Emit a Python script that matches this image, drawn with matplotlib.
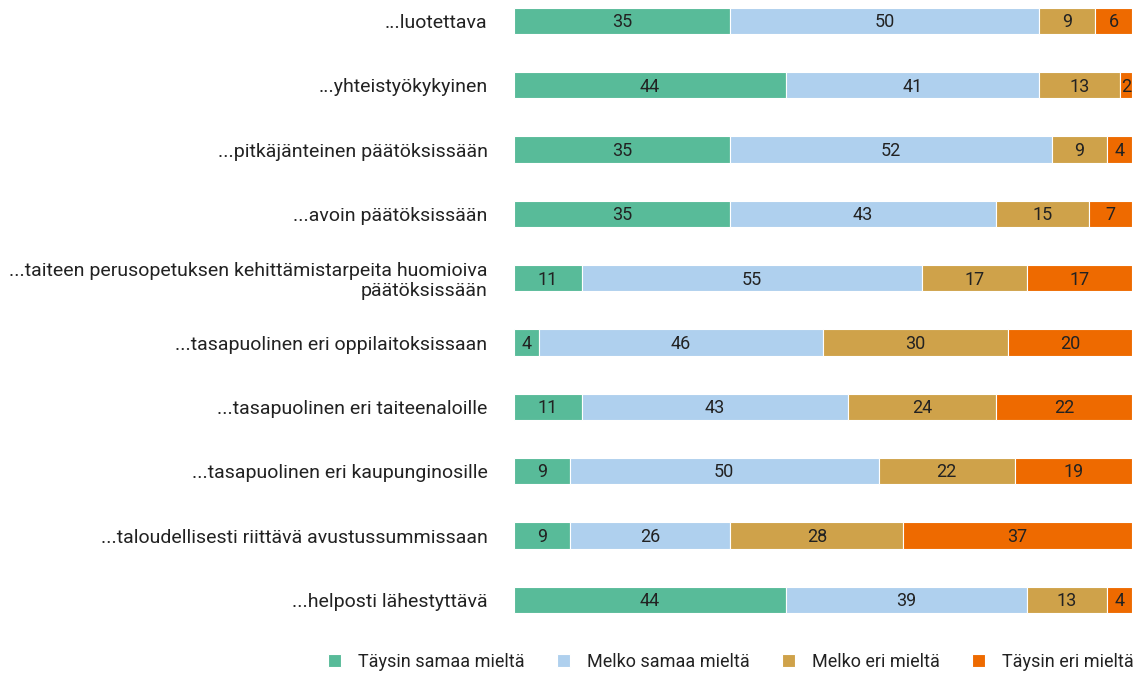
import matplotlib.pyplot as plt
import numpy as np

# === Data ===
categories = [
    '...luotettava',
    '...yhteistyökykyinen',
    '...pitkäjänteinen päätöksissään',
    '...avoin päätöksissään',
    '...taiteen perusopetuksen kehittämistarpeita huomioiva\npäätöksissään',
    '...tasapuolinen eri oppilaitoksissaan',
    '...tasapuolinen eri taiteenaloille',
    '...tasapuolinen eri kaupunginosille',
    '...taloudellisesti riittävä avustussummissaan',
    '...helposti lähestyttävä',
]
series_names = ['Täysin samaa mieltä', 'Melko samaa mieltä', 'Melko eri mieltä', 'Täysin eri mieltä']
taysin_samaa = [35, 44, 35, 35, 11, 4, 11, 9, 9, 44]
melko_samaa = [50, 41, 52, 43, 55, 46, 43, 50, 26, 39]
melko_eri = [9, 13, 9, 15, 17, 30, 24, 22, 28, 13]
taysin_eri = [6, 2, 4, 7, 17, 20, 22, 19, 37, 4]

colors = ['#58bb99', '#afd0ee', '#cfa24a', '#ee6a00']

plt.rcParams['font.family'] = ['Roboto', 'DejaVu Sans']

fig = plt.figure(figsize=(11.44, 6.84), dpi=100)
ax = fig.add_axes([514 / 1144, 1 - 632 / 684, (1132 - 514) / 1144, 632 / 684])

y = np.arange(len(categories))
left = np.zeros(len(categories))
for name, vals, col in zip(series_names, [taysin_samaa, melko_samaa, melko_eri, taysin_eri], colors):
    vals = np.array(vals)
    ax.barh(y, vals, left=left, height=0.41, color=col, edgecolor='white',
            linewidth=0.8, label=name)
    for yi, l, v in zip(y, left, vals):
        ax.text(l + v / 2, yi + 0.02, str(v), ha='center', va='center', fontsize=13, color='#222222')
    left += vals

ax.set_xlim(0, 100)
ax.set_ylim(9.5, -0.326)
ax.set_yticks(y)
ax.set_yticklabels(categories, fontsize=14, color='#222222', linespacing=1.1)
ax.tick_params(axis='y', length=0, pad=19)
ax.set_xticks([])
for s in ax.spines.values():
    s.set_visible(False)

leg = fig.legend(loc='lower right', bbox_to_anchor=(1.005, -0.005), ncol=4, frameon=False,
                 fontsize=13, handlelength=0.75, handleheight=0.75, columnspacing=1.8,
                 handletextpad=0.9)
for t in leg.get_texts():
    t.set_color('#222222')

fig.savefig('out.png', dpi=100)
